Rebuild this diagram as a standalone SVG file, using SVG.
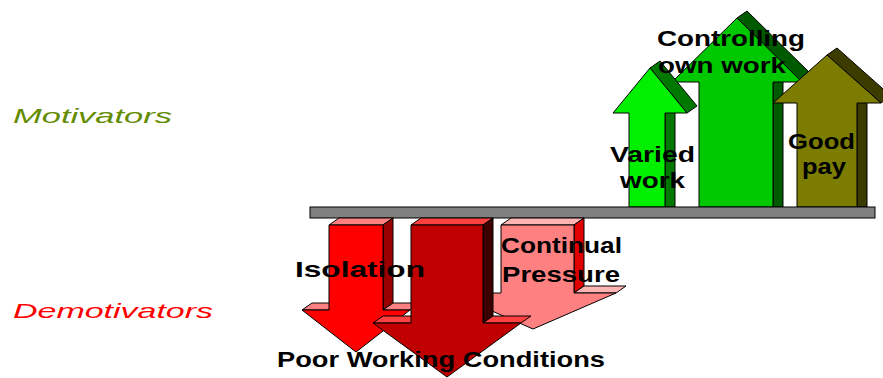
<svg xmlns="http://www.w3.org/2000/svg" width="883" height="378" viewBox="0 0 883 378">
  <style>
    .edge { stroke: #000; stroke-width: 1; stroke-linejoin: miter; }
    .lbl { font-family: "Liberation Sans", Arial, sans-serif; font-weight: bold; font-size: 22px; fill: #000; }
    .side { font-family: "Liberation Sans", Arial, sans-serif; font-style: italic; font-size: 21px; }
  </style>
  <rect width="883" height="378" fill="#ffffff"/>

  <!-- side labels -->
  <text class="side" x="13" y="123" fill="#638c00" textLength="159" lengthAdjust="spacingAndGlyphs">Motivators</text>
  <text class="side" x="13" y="318" fill="#ff0000" textLength="200" lengthAdjust="spacingAndGlyphs">Demotivators</text>

  <!-- upward arrows -->
  <g id="controlling">
    <path class="edge" fill="#005a00" d="M773,82 L783,75 L783,207 L773,207 Z"/>
    <path class="edge" fill="#005a00" d="M737,18 L747,11 L812,75 L802,82 Z"/>
    <path class="edge" fill="#00c800" d="M699,207 L699,82 L672,82 L737,18 L802,82 L773,82 L773,207 Z"/>
  </g>
  <g id="varied">
    <path class="edge" fill="#007800" d="M665,113 L675,106 L675,207 L665,207 Z"/>
    <path class="edge" fill="#007800" d="M650,68 L660,61 L697,106 L687,113 Z"/>
    <path class="edge" fill="#00f000" d="M629,207 L629,113 L613,113 L650,68 L687,113 L665,113 L665,207 Z"/>
  </g>
  <g id="goodpay">
    <path class="edge" fill="#3c3c00" d="M857,103 L867,96 L867,207 L857,207 Z"/>
    <path class="edge" fill="#3c3c00" d="M827,55 L837,48 L891,96 L881,103 Z"/>
    <path class="edge" fill="#7c7c00" d="M797,207 L797,103 L773,103 L827,55 L881,103 L857,103 L857,207 Z"/>
  </g>

  <!-- divider bar -->
  <rect id="bar" class="edge" x="310" y="207" width="565" height="11" fill="#808080" stroke="#333"/>

  <!-- downward arrows -->
  <g id="continual">
    <path class="edge" fill="#ffb4b4" d="M501,225 L511,218 L584,218 L574,225 Z"/>
    <path class="edge" fill="#e00000" d="M574,225 L584,218 L584,286 L574,293 Z"/>
    <path class="edge" fill="#ffb4b4" d="M574,293 L616,293 L626,286 L584,286 Z"/>
    <path class="edge" fill="#ff8080" d="M501,225 L574,225 L574,293 L616,293 L533,329 L451,293 L501,293 Z"/>
  </g>
  <g id="isolation">
    <path class="edge" fill="#ff8080" d="M329,225 L339,218 L393,218 L383,225 Z"/>
    <path class="edge" fill="#990000" d="M383,225 L393,218 L393,303 L383,310 Z"/>
    <path class="edge" fill="#ff8080" d="M302,310 L329,310 L339,303 L312,303 Z"/>
    <path class="edge" fill="#ff8080" d="M383,310 L410,310 L420,303 L393,303 Z"/>
    <path class="edge" fill="#ff0000" d="M329,225 L383,225 L383,310 L410,310 L356,352 L302,310 L329,310 Z"/>
  </g>
  <g id="poor">
    <path class="edge" fill="#ff4040" d="M411,225 L421,218 L493,218 L483,225 Z"/>
    <path class="edge" fill="#3c0000" d="M483,225 L493,218 L493,316 L483,323 Z"/>
    <path class="edge" fill="#ff4040" d="M373,323 L411,323 L421,316 L383,316 Z"/>
    <path class="edge" fill="#ff4040" d="M483,323 L521,323 L531,316 L493,316 Z"/>
    <path class="edge" fill="#c00000" d="M411,225 L483,225 L483,323 L521,323 L447,377 L373,323 L411,323 Z"/>
  </g>

  <!-- arrow labels -->
  <g id="labels">
    <text class="lbl" x="657" y="46" textLength="148" lengthAdjust="spacingAndGlyphs">Controlling</text>
    <text class="lbl" x="658" y="73" textLength="128" lengthAdjust="spacingAndGlyphs">own work</text>
    <text class="lbl" x="610" y="162" textLength="85" lengthAdjust="spacingAndGlyphs">Varied</text>
    <text class="lbl" x="620" y="188" textLength="65" lengthAdjust="spacingAndGlyphs">work</text>
    <text class="lbl" x="788" y="149" textLength="67" lengthAdjust="spacingAndGlyphs">Good</text>
    <text class="lbl" x="802" y="174" textLength="44" lengthAdjust="spacingAndGlyphs">pay</text>
    <text class="lbl" x="295" y="277" textLength="130" lengthAdjust="spacingAndGlyphs">Isolation</text>
    <text class="lbl" x="501" y="253" textLength="121" lengthAdjust="spacingAndGlyphs">Continual</text>
    <text class="lbl" x="502" y="282" textLength="118" lengthAdjust="spacingAndGlyphs">Pressure</text>
    <text class="lbl" x="277" y="367" textLength="328" lengthAdjust="spacingAndGlyphs">Poor Working Conditions</text>
  </g>
</svg>
